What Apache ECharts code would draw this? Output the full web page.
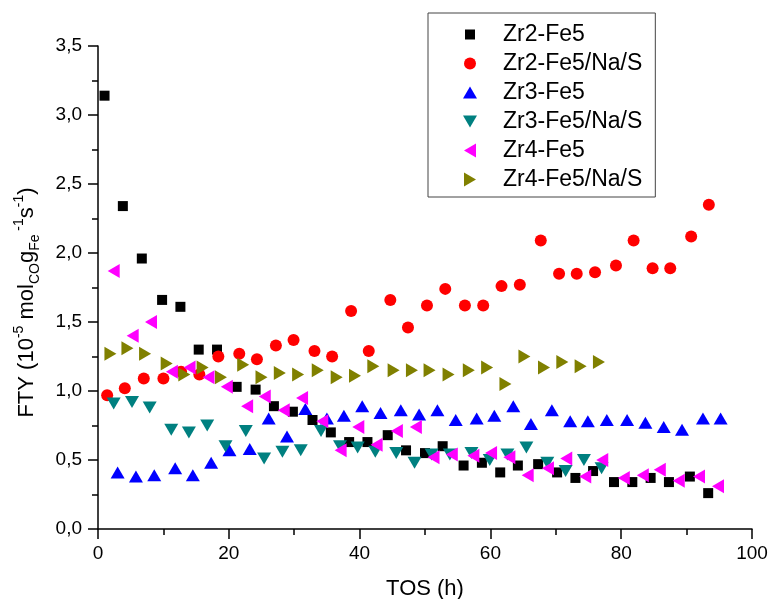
<!DOCTYPE html>
<html>
<head>
<meta charset="utf-8">
<script src="https://cdn.jsdelivr.net/npm/echarts@6/dist/echarts.min.js"></script>
<style>
html,body{margin:0;padding:0;background:#fff;}
#chart{width:771px;height:599px;}
</style>
</head>
<body>
<div id="chart"></div>
<script>
// ---- data ----
const seriesNames = ['Zr2-Fe5', 'Zr2-Fe5/Na/S', 'Zr3-Fe5', 'Zr3-Fe5/Na/S', 'Zr4-Fe5', 'Zr4-Fe5/Na/S'];

const zr2fe5_x = [1.0, 3.8, 6.7, 9.8, 12.6, 15.4, 18.2, 21.2, 24.1, 26.9, 29.8, 32.8, 35.6, 38.4, 41.2, 44.3, 47.1, 50.0, 52.7, 55.9, 58.7, 61.5, 64.2, 67.3, 70.2, 73.0, 75.7, 78.9, 81.7, 84.5, 87.3, 90.5, 93.3];
const zr2fe5_y = [3.14, 2.34, 1.96, 1.66, 1.61, 1.30, 1.30, 1.03, 1.01, 0.89, 0.85, 0.79, 0.70, 0.63, 0.63, 0.68, 0.57, 0.55, 0.60, 0.46, 0.48, 0.41, 0.46, 0.47, 0.41, 0.37, 0.42, 0.34, 0.34, 0.37, 0.34, 0.38, 0.26];

const zr2fe5nas_x = [1.4, 4.1, 7.0, 10.0, 12.7, 15.5, 18.4, 21.6, 24.3, 27.2, 29.9, 33.1, 35.8, 38.7, 41.4, 44.7, 47.4, 50.3, 53.1, 56.1, 58.9, 61.7, 64.5, 67.7, 70.5, 73.2, 76.0, 79.2, 81.9, 84.8, 87.5, 90.7, 93.4];
const zr2fe5nas_y = [0.97, 1.02, 1.09, 1.09, 1.14, 1.12, 1.25, 1.27, 1.23, 1.33, 1.37, 1.29, 1.25, 1.58, 1.29, 1.66, 1.46, 1.62, 1.74, 1.62, 1.62, 1.76, 1.77, 2.09, 1.85, 1.85, 1.86, 1.91, 2.09, 1.89, 1.89, 2.12, 2.35];

const zr3fe5_x = [3.0, 5.8, 8.6, 11.8, 14.5, 17.3, 20.1, 23.2, 26.1, 28.9, 31.7, 35.0, 37.6, 40.4, 43.2, 46.3, 49.1, 51.9, 54.7, 57.9, 60.6, 63.5, 66.2, 69.4, 72.2, 74.9, 77.8, 80.9, 83.7, 86.5, 89.3, 92.5, 95.2];
const zr3fe5_y = [0.41, 0.38, 0.39, 0.44, 0.39, 0.48, 0.57, 0.58, 0.80, 0.67, 0.87, 0.80, 0.82, 0.89, 0.84, 0.86, 0.83, 0.86, 0.79, 0.80, 0.82, 0.89, 0.76, 0.86, 0.78, 0.78, 0.79, 0.79, 0.77, 0.74, 0.72, 0.80, 0.80];

const zr3fe5nas_x = [2.4, 5.2, 7.9, 11.2, 13.9, 16.7, 19.5, 22.6, 25.4, 28.2, 31.0, 34.1, 37.0, 39.7, 42.4, 45.6, 48.4, 51.0, 53.8, 57.1, 59.9, 62.6, 65.5, 68.7, 71.5, 74.3, 77.0];
const zr3fe5nas_y = [0.91, 0.92, 0.88, 0.72, 0.70, 0.75, 0.60, 0.71, 0.51, 0.56, 0.57, 0.71, 0.60, 0.59, 0.56, 0.55, 0.48, 0.54, 0.54, 0.55, 0.50, 0.54, 0.59, 0.48, 0.42, 0.50, 0.44];

const zr4fe5_x = [2.4, 5.3, 8.1, 11.3, 14.0, 16.9, 19.7, 22.8, 25.5, 28.4, 31.2, 34.3, 37.1, 39.8, 42.6, 45.7, 48.6, 51.3, 54.1, 57.4, 60.1, 62.9, 65.7, 68.8, 71.6, 74.5, 77.1, 80.4, 83.3, 85.9, 88.8, 91.9, 94.8];
const zr4fe5_y = [1.87, 1.40, 1.50, 1.14, 1.17, 1.10, 1.03, 0.89, 0.96, 0.86, 0.95, 0.78, 0.57, 0.74, 0.61, 0.71, 0.74, 0.52, 0.54, 0.53, 0.55, 0.52, 0.39, 0.44, 0.51, 0.38, 0.50, 0.37, 0.39, 0.43, 0.35, 0.38, 0.31];

const zr4fe5nas_x = [1.9, 4.5, 7.2, 10.5, 13.2, 16.0, 18.8, 22.2, 25.0, 27.8, 30.6, 33.6, 36.5, 39.3, 42.1, 45.2, 48.0, 50.7, 53.6, 56.7, 59.5, 62.3, 65.2, 68.2, 71.0, 73.8, 76.6];
const zr4fe5nas_y = [1.27, 1.31, 1.27, 1.20, 1.12, 1.17, 1.10, 1.19, 1.10, 1.13, 1.12, 1.15, 1.10, 1.11, 1.18, 1.15, 1.15, 1.15, 1.12, 1.15, 1.17, 1.05, 1.25, 1.17, 1.21, 1.18, 1.21];

const xTicks = [0, 20, 40, 60, 80, 100];
const yTicks = [0, 0.5, 1.0, 1.5, 2.0, 2.5, 3.0, 3.5];

// ---- build ----
function pairs(xs, ys) { return xs.map((x, i) => [x, ys[i]]); }
const FONT = 'Liberation Sans, Arial, Helvetica, sans-serif';

// marker styles; legend icons are paths in a 14x14 box (extra moveTo points keep the box)
const styles = [
  { color: '#000000', symbol: 'rect', size: 10, rotate: 0,
    icon: 'path://M0,0 M2,2 L12,2 L12,12 L2,12 Z M14,14' },
  { color: '#ff0000', symbol: 'circle', size: 12, rotate: 0,
    icon: 'path://M0,0 M1,7 A6,6 0 1,1 13,7 A6,6 0 1,1 1,7 Z M14,14' },
  { color: '#0000ff', symbol: 'triangle', size: [14, 12], rotate: 0,
    icon: 'path://M0,0 M0,13 L7,1 L14,13 Z M14,14' },
  { color: '#008080', symbol: 'triangle', size: [14, 12], rotate: 180,
    icon: 'path://M0,0 M0,1 L14,1 L7,13 Z M14,14' },
  { color: '#ff00ff', symbol: 'triangle', size: [14, 12], rotate: 90,
    icon: 'path://M0,0 M1,7 L13,0 L13,14 Z M14,14' },
  { color: '#808000', symbol: 'triangle', size: [14, 12], rotate: -90,
    icon: 'path://M0,0 M1,0 L13,7 L1,14 Z M14,14' }
];
const dataSets = [
  pairs(zr2fe5_x, zr2fe5_y),
  pairs(zr2fe5nas_x, zr2fe5nas_y),
  pairs(zr3fe5_x, zr3fe5_y),
  pairs(zr3fe5nas_x, zr3fe5nas_y),
  pairs(zr4fe5_x, zr4fe5_y),
  pairs(zr4fe5nas_x, zr4fe5nas_y)
];

const series = seriesNames.map((name, i) => ({
  name: name,
  type: 'scatter',
  data: dataSets[i],
  symbol: styles[i].symbol,
  symbolSize: styles[i].size,
  symbolRotate: styles[i].rotate,
  itemStyle: { color: styles[i].color, opacity: 1 },
  emphasis: { disabled: true },
  z: 2 + i
}));

const chart = echarts.init(document.getElementById('chart'), null, { renderer: 'canvas' });
chart.setOption({
  animation: false,
  backgroundColor: '#ffffff',
  textStyle: { fontFamily: FONT },
  grid: { left: 98, right: 19, top: 46, bottom: 70, containLabel: false, outerBoundsMode: 'none' },
  legend: {
    orient: 'vertical',
    left: 428,
    top: 13,
    padding: [10, 13, 6, 35],
    itemWidth: 14,
    itemHeight: 14,
    itemGap: 6,
    symbolKeepAspect: true,
    symbolRotate: 0,
    borderColor: '#444444',
    borderWidth: 1,
    backgroundColor: '#ffffff',
    formatter: name => '{t|' + name + '}',
    textStyle: {
      fontFamily: FONT, fontSize: 23, color: '#000',
      rich: { t: { fontFamily: FONT, fontSize: 23, color: '#000', padding: [0, 0, 0, 21] } }
    },
    data: seriesNames.map((n, i) => ({ name: n, icon: styles[i].icon, itemStyle: { color: styles[i].color } }))
  },
  xAxis: {
    type: 'value',
    min: xTicks[0],
    max: xTicks[xTicks.length - 1],
    interval: 20,
    name: 'TOS (h)',
    nameLocation: 'middle',
    nameGap: 49,
    nameTextStyle: { fontFamily: FONT, fontSize: 22, color: '#000' },
    axisLine: { show: true, onZero: false, lineStyle: { color: '#000', width: 1.5 } },
    axisTick: { show: true, inside: false, length: 10, lineStyle: { color: '#000', width: 1.5 } },
    minorTick: { show: true, splitNumber: 2, length: 6, lineStyle: { color: '#000', width: 1.5 } },
    splitLine: { show: false },
    axisLabel: { fontFamily: FONT, fontSize: 19, color: '#000', margin: 15 }
  },
  yAxis: {
    type: 'value',
    min: yTicks[0],
    max: yTicks[yTicks.length - 1],
    interval: 0.5,
    name: '{n|FTY (10}{sup|-5}{n| mol}{sub|CO}{n|g}{sub|Fe}{sup| -1}{n|s}{sup|-1}{n|)}',
    nameLocation: 'middle',
    nameRotate: 90,
    nameGap: 56,
    nameTextStyle: {
      fontFamily: FONT, fontSize: 22, color: '#000',
      padding: [0, 30, 0, 0],
      rich: {
        n: { fontFamily: FONT, fontSize: 22, color: '#000', lineHeight: 30, verticalAlign: 'middle' },
        sup: { fontFamily: FONT, fontSize: 14, color: '#000', lineHeight: 14, verticalAlign: 'top' },
        sub: { fontFamily: FONT, fontSize: 14, color: '#000', lineHeight: 14, verticalAlign: 'bottom' }
      }
    },
    axisLine: { show: true, onZero: false, lineStyle: { color: '#000', width: 1.5 } },
    axisTick: { show: true, inside: false, length: 10, lineStyle: { color: '#000', width: 1.5 } },
    minorTick: { show: true, splitNumber: 2, length: 6, lineStyle: { color: '#000', width: 1.5 } },
    splitLine: { show: false },
    axisLabel: {
      fontFamily: FONT, fontSize: 19, color: '#000', margin: 16,
      formatter: v => v.toFixed(1).replace('.', ',')
    }
  },
  series: series
});
</script>
</body>
</html>
